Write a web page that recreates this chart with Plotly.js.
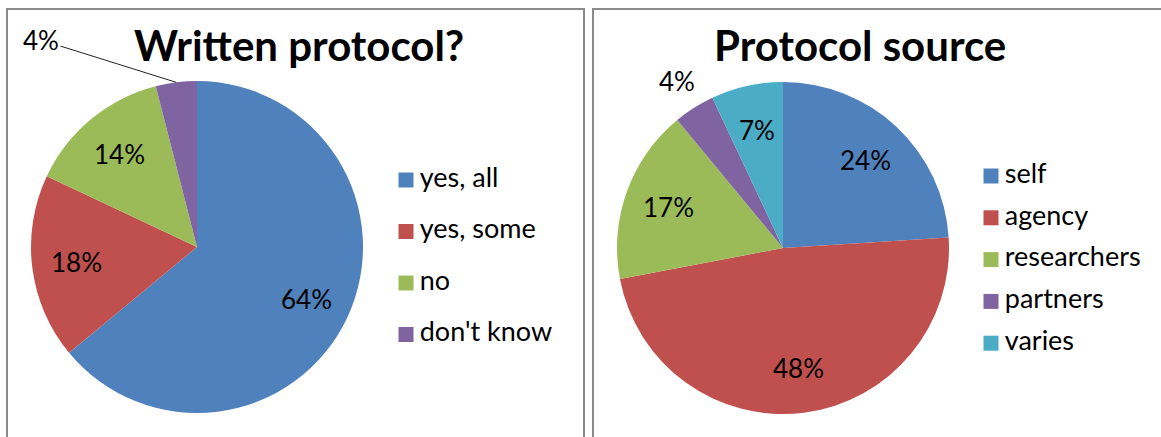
<!DOCTYPE html>
<html>
<head>
<meta charset="utf-8">
<script src="https://cdn.plot.ly/plotly-3.0.1.min.js"></script>
<style>html,body{margin:0;padding:0;background:#fff;}#chart{width:1161px;height:437px;}</style>
</head>
<body>
<div id="chart"></div>
<script>
// ---- data ----
const titleLeft = "Written protocol?";
const labelsLeft = ["yes, all", "yes, some", "no", "don't know"];
const valuesLeft = [64, 18, 14, 4];
const titleRight = "Protocol source";
const labelsRight = ["self", "agency", "researchers", "partners", "varies"];
const valuesRight = [24, 48, 17, 4, 7];
const colors = ["#4F81BD", "#C0504D", "#9BBB59", "#8064A2", "#4BACC6"];

// ---- geometry / style ----
const W = 1161, H = 437;
const FONT = "Lato, 'Open Sans', sans-serif";
const px = x => x / W, py = y => 1 - y / H;
const pies = [
  {labels: labelsLeft, values: valuesLeft, cx: 197, cy: 247, r: 166, title: titleLeft, tx: 299, ty: 45,
   leg: {x: 406, y0: 180, dy: 51.5}, outside: [false, false, false, true], leader: [false, false, false, true]},
  {labels: labelsRight, values: valuesRight, cx: 783, cy: 248, r: 166, title: titleRight, tx: 860, ty: 45,
   leg: {x: 991, y0: 176, dy: 41.8}, outside: [false, false, false, true, false], leader: [false, false, false, false, false]}
];

const traces = [];
const annotations = [];
pies.forEach((p, k) => {
  const total = p.values.reduce((a, b) => a + b, 0);
  traces.push({
    type: 'pie', labels: p.labels, values: p.values, sort: false, direction: 'clockwise', rotation: 0,
    marker: {colors: colors.slice(0, p.labels.length), line: {width: 0}},
    textinfo: 'none', hoverinfo: 'label+percent', showlegend: false,
    domain: {x: [px(p.cx - p.r), px(p.cx + p.r)], y: [py(p.cy + p.r), py(p.cy - p.r)]}
  });
  // slice labels
  let cum = 0;
  p.values.forEach((v, i) => {
    const mid = (cum + v / 2) / total * 2 * Math.PI;
    cum += v;
    const txt = Math.round(v / total * 100) + '%';
    if (p.leader[i]) {
      const tipX = p.cx + p.r * Math.sin(mid), tipY = p.cy - p.r * Math.cos(mid);
      annotations.push({x: px(tipX), y: py(tipY), xref: 'paper', yref: 'paper', text: txt,
        showarrow: true, arrowhead: 0, arrowwidth: 1, arrowcolor: '#222', ax: 41 - tipX, ay: 40 - tipY,
        font: {family: FONT, size: 26, color: '#000'}});
    } else {
      const f = p.outside[i] ? 1.19 : 0.73;
      const lx = p.cx + f * p.r * Math.sin(mid), ly = p.cy - f * p.r * Math.cos(mid);
      annotations.push({x: px(lx), y: py(ly), xref: 'paper', yref: 'paper', text: txt, showarrow: false,
        xanchor: 'center', yanchor: 'middle', font: {family: FONT, size: 26, color: '#000'}});
    }
  });
  // title
  annotations.push({x: px(p.tx), y: py(p.ty), xref: 'paper', yref: 'paper', text: '<b>' + p.title + '</b>',
    showarrow: false, xanchor: 'center', yanchor: 'middle', font: {family: FONT, size: 42, color: '#000'}});
  // legend drawn as scatter on a pixel-space overlay axis
  traces.push({
    type: 'scatter', mode: 'markers+text', xaxis: 'x', yaxis: 'y',
    x: p.labels.map(() => p.leg.x), y: p.labels.map((_, i) => p.leg.y0 + i * p.leg.dy),
    text: p.labels.map(s => '\u2009' + s), textposition: 'middle right',
    textfont: {family: FONT, size: 27, color: '#000'},
    marker: {symbol: 'square', size: 15, color: colors.slice(0, p.labels.length)},
    hoverinfo: 'skip', showlegend: false, cliponaxis: false
  });
});

const shapes = [
  {type: 'rect', xref: 'paper', yref: 'paper', x0: px(7), x1: px(584), y0: py(460), y1: py(9), line: {color: '#8a8a8a', width: 2}},
  {type: 'rect', xref: 'paper', yref: 'paper', x0: px(593), x1: px(1185), y0: py(460), y1: py(9), line: {color: '#8a8a8a', width: 2}}
];

const layout = {
  width: W, height: H, margin: {l: 0, r: 0, t: 0, b: 0},
  paper_bgcolor: '#fff', plot_bgcolor: 'rgba(0,0,0,0)',
  xaxis: {domain: [0, 1], range: [0, W], visible: false, fixedrange: true},
  yaxis: {domain: [0, 1], range: [H, 0], visible: false, fixedrange: true},
  showlegend: false, annotations: annotations, shapes: shapes,
  font: {family: FONT}
};
Plotly.newPlot('chart', traces, layout, {staticPlot: true});
</script>
</body>
</html>
